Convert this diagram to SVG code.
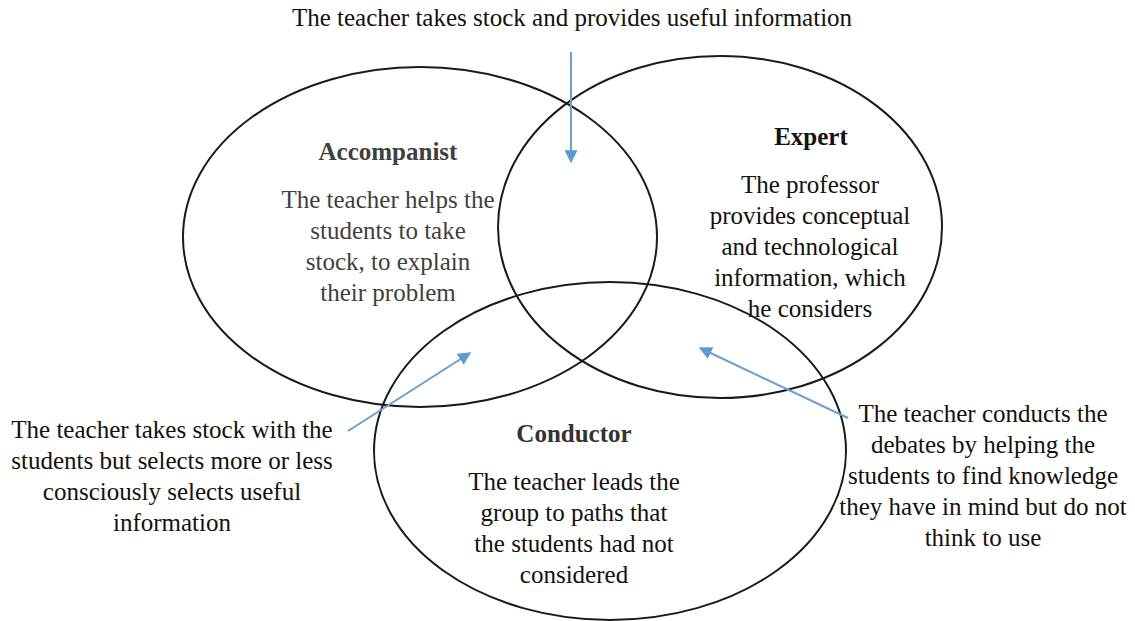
<svg xmlns="http://www.w3.org/2000/svg" width="1135" height="621" viewBox="0 0 1135 621">
<defs>
<style>
text{font-family:"Liberation Serif","Times New Roman",serif;font-size:25px;fill:#111;text-anchor:middle}
.t{font-weight:bold;font-size:25px}
.g{fill:#3f3f3f}
.c{fill:none;stroke:#1a1a1a;stroke-width:2}
.a{fill:none;stroke:#6a9fd4;stroke-width:2;marker-end:url(#ah)}
</style>
<marker id="ah" viewBox="0 0 10 10" refX="9" refY="5" markerWidth="6.5" markerHeight="6.5" markerUnits="strokeWidth" orient="auto">
<path d="M0,0L10,5L0,10z" fill="#5b9bd5"/>
</marker>
</defs>
<rect width="1135" height="621" fill="#fff"/>
<g id="accompanist">
<ellipse class="c" cx="420" cy="237" rx="237" ry="170"/>
<text class="t g" x="388" y="160">Accompanist</text>
<text class="g" x="388" y="208">The teacher helps the</text>
<text class="g" x="388" y="239">students to take</text>
<text class="g" x="388" y="270">stock, to explain</text>
<text class="g" x="388" y="301">their problem</text>
</g>
<g id="expert">
<ellipse class="c" cx="720" cy="227" rx="222" ry="171"/>
<text class="t" x="811" y="145">Expert</text>
<text x="810" y="193">The professor</text>
<text x="810" y="224">provides conceptual</text>
<text x="810" y="255">and technological</text>
<text x="810" y="286">information, which</text>
<text x="810" y="317">he considers</text>
</g>
<g id="conductor">
<ellipse class="c" cx="610" cy="451" rx="236" ry="169"/>
<text class="t" x="574" y="442" style="fill:#333">Conductor</text>
<text x="574" y="490">The teacher leads the</text>
<text x="574" y="521">group to paths that</text>
<text x="574" y="552">the students had not</text>
<text x="574" y="583">considered</text>
</g>
<g id="note-top">
<text x="572" y="26">The teacher takes stock and provides useful information</text>
</g>
<g id="note-left">
<text x="172" y="438">The teacher takes stock with the</text>
<text x="172" y="469">students but selects more or less</text>
<text x="172" y="500">consciously selects useful</text>
<text x="172" y="531">information</text>
</g>
<g id="note-right">
<text x="983" y="422">The teacher conducts the</text>
<text x="983" y="453">debates by helping the</text>
<text x="983" y="484">students to find knowledge</text>
<text x="983" y="515">they have in mind but do not</text>
<text x="983" y="546">think to use</text>
</g>
<g id="connectors">
<line class="a" x1="571" y1="52" x2="571" y2="162"/>
<line class="a" x1="348" y1="431" x2="470" y2="353"/>
<line class="a" x1="848" y1="418" x2="700" y2="348"/>
</g>
</svg>
